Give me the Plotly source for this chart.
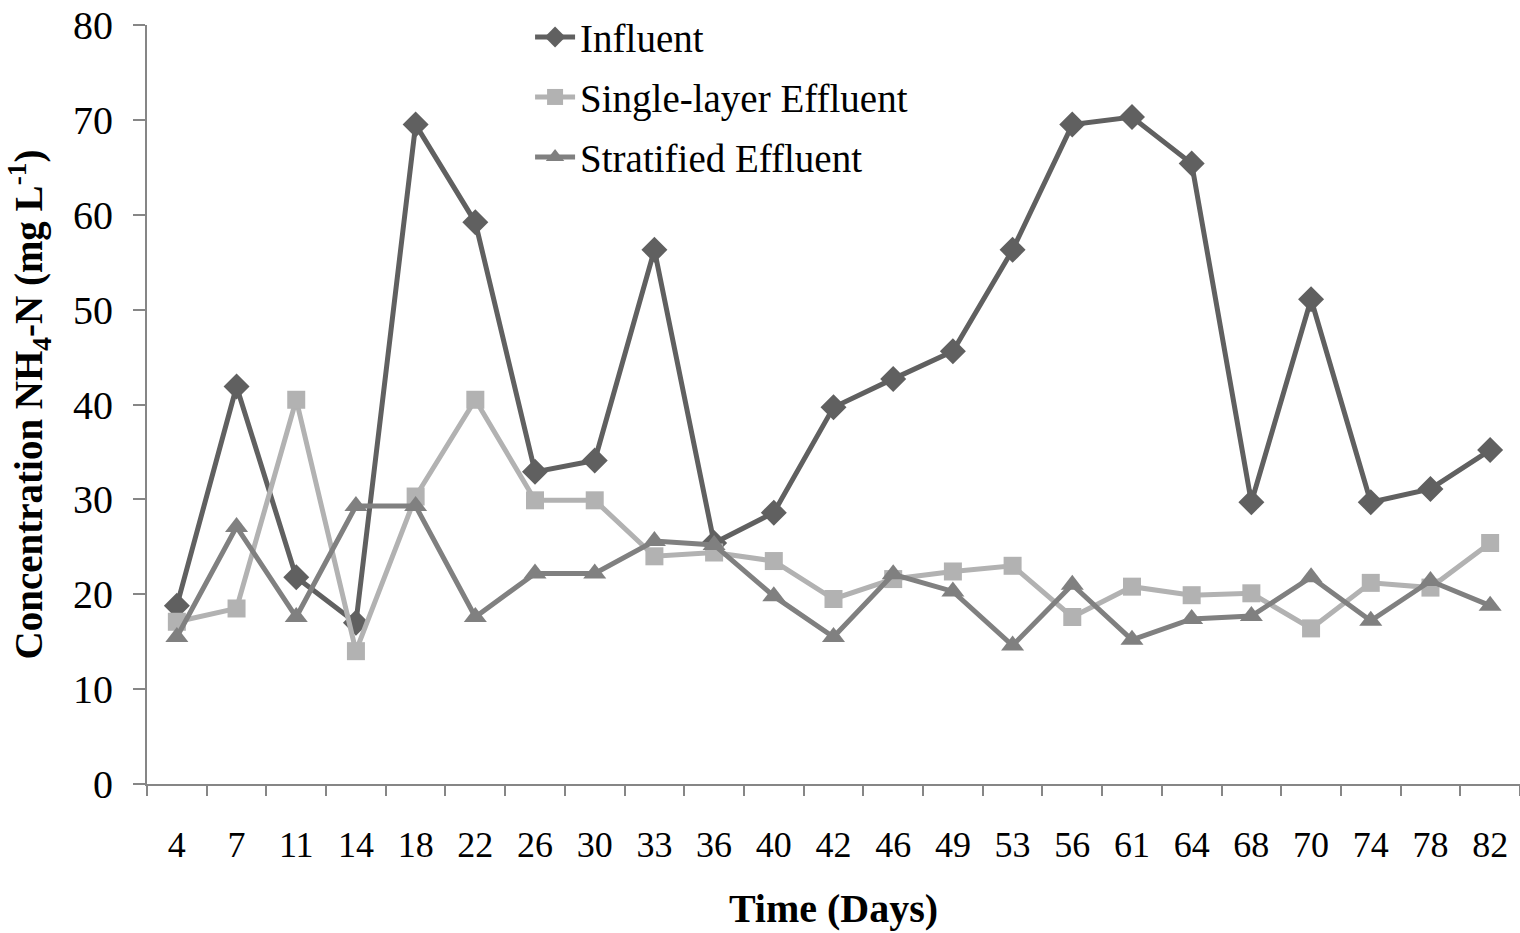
import plotly.graph_objects as go

# Sampling days (categorical x axis)
days = ["4", "7", "11", "14", "18", "22", "26", "30", "33", "36", "40", "42",
        "46", "49", "53", "56", "61", "64", "68", "70", "74", "78", "82"]

# NH4-N concentrations (mg/L)
influent = [18.8, 41.9, 21.8, 17.0, 69.5, 59.2, 32.9, 34.1, 56.3, 25.4, 28.6, 39.7,
            42.7, 45.6, 56.3, 69.5, 70.3, 65.4, 29.7, 51.1, 29.7, 31.1, 35.2]
single_layer = [17.1, 18.5, 40.5, 14.0, 30.3, 40.5, 29.9, 29.9, 24.0, 24.4, 23.5, 19.5,
                21.6, 22.4, 23.0, 17.6, 20.8, 19.9, 20.1, 16.4, 21.2, 20.7, 25.4]
stratified = [15.5, 27.1, 17.6, 29.3, 29.3, 17.6, 22.2, 22.2, 25.6, 25.2, 19.8, 15.5,
              22.1, 20.3, 14.6, 21.0, 15.2, 17.4, 17.7, 21.8, 17.2, 21.4, 18.8]

y_ticks = [0, 10, 20, 30, 40, 50, 60, 70, 80]

FONT = "Liberation Serif, Times New Roman, serif"
AXIS_GRAY = "#868686"

fig = go.Figure()

fig.add_trace(go.Scatter(
    x=days, y=influent, name="Influent", mode="lines+markers",
    line=dict(color="#606060", width=5),
    marker=dict(symbol="diamond", size=20, color="#606060"),
    legend="legend",
))
fig.add_trace(go.Scatter(
    x=days, y=single_layer, name="Single-layer Effluent", mode="lines+markers",
    line=dict(color="#b2b2b2", width=5),
    marker=dict(symbol="square", size=18, color="#b2b2b2"),
    legend="legend2",
))
fig.add_trace(go.Scatter(
    x=days, y=stratified, name="Stratified Effluent", mode="lines+markers",
    line=dict(color="#808080", width=5),
    marker=dict(symbol="triangle-up", size=20, color="#808080"),
    legend="legend3",
))

# One legend box per series so the rows can be spaced evenly
legend_style = dict(
    x=0.279, xanchor="left", yanchor="middle",
    bgcolor="rgba(0,0,0,0)", font=dict(size=39, family=FONT),
    itemwidth=40, borderwidth=0,
)

fig.update_layout(
    width=1520, height=933,
    margin=dict(l=147, r=0, t=25, b=149),
    plot_bgcolor="white", paper_bgcolor="white",
    font=dict(family=FONT, color="black", size=36),
    showlegend=True,
    legend=dict(y=0.984, **legend_style),
    legend2=dict(y=0.905, **legend_style),
    legend3=dict(y=0.826, **legend_style),
    xaxis=dict(
        type="category", tickson="boundaries", range=[-0.5, 22.5],
        showline=True, linecolor=AXIS_GRAY, linewidth=2,
        ticks="outside", ticklen=10, tickcolor=AXIS_GRAY, tickwidth=1.5,
        showgrid=False, zeroline=False,
        tickfont=dict(size=36, family=FONT),
        ticklabelstandoff=28,
        title=dict(text="<b>Time (Days)</b>", font=dict(size=40, family=FONT), standoff=30),
    ),
    yaxis=dict(
        range=[0, 80], tickvals=y_ticks,
        showline=True, linecolor=AXIS_GRAY, linewidth=2,
        ticks="outside", ticklen=12, tickcolor=AXIS_GRAY, tickwidth=1.5,
        showgrid=False, zeroline=False,
        tickfont=dict(size=40, family=FONT),
        ticklabelstandoff=12,
        title=dict(text="<b>Concentration NH<sub>4</sub>-N (mg L<sup>-1</sup>)</b>",
                   font=dict(size=39, family=FONT), standoff=18),
    ),
)

fig.write_html("out.html")
